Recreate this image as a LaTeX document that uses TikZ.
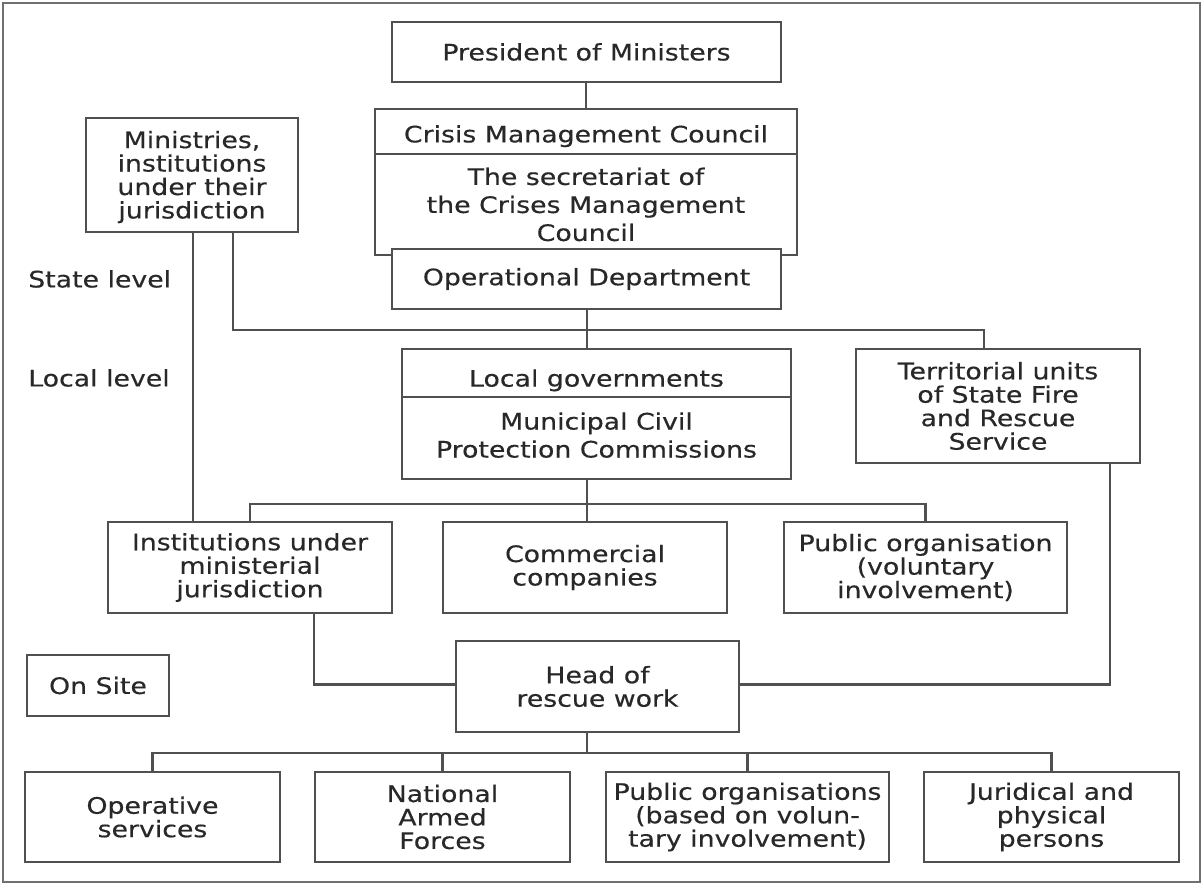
\documentclass[tikz,border=0pt]{standalone}
\usepackage{fontspec}
\setmainfont{DejaVu Sans}[FakeStretch=1.18,FakeBold=0.35]
\usetikzlibrary{calc}
\definecolor{linec}{HTML}{505050}
\definecolor{txtc}{HTML}{282828}
\definecolor{framec}{HTML}{707070}
\tikzset{
  box/.style={draw=linec, line width=1.6pt, fill=white, align=center, inner sep=0pt,
    text=txtc, font=\fontsize{17pt}{17.6pt}\selectfont},
  wide/.style={font=\fontsize{17pt}{21pt}\selectfont},
  conn/.style={draw=linec, line width=1.6pt},
  lbl/.style={text=txtc, font=\fontsize{17pt}{17.6pt}\selectfont, inner sep=0pt}
}
\newcommand\mybox[7][]{\node[box,#1, minimum width={(#5-#3)*0.75pt}, minimum height={(#6-#4)*0.75pt}] (#2) at ({(#3+#5)/2},{(#4+#6)/2}) {#7};}
\newcommand\shiftln[2]{\raisebox{#1}[\height][\depth]{#2}}
\begin{document}
\begin{tikzpicture}[x=0.75pt,y=-0.75pt]
\useasboundingbox (0,0) rectangle (1203,884);
\draw[draw=framec, line width=1.5pt] (3,3) rectangle (1200,882);

\mybox{pres}{392}{22}{781}{82}{President of Ministers}
\mybox{cmc}{375}{109}{797}{154}{\shiftln{-3.5pt}{Crisis Management Council}}
\mybox[wide]{sec}{375}{154}{797}{255}{The secretariat of\\the Crises Management\\Council}
\mybox{op}{392}{249}{781}{309}{Operational Department}
\mybox{min}{86}{118}{298}{232}{\shiftln{-1.5pt}{Ministries,}\\\shiftln{-1.5pt}{institutions}\\\shiftln{-1.5pt}{under their}\\\shiftln{-1.5pt}{jurisdiction}}
\mybox{lg}{402}{349}{791}{397}{\shiftln{-5.5pt}{Local governments}}
\mybox[wide]{mun}{402}{397}{791}{479}{\shiftln{2.2pt}{Municipal Civil}\\\shiftln{2.2pt}{Protection Commissions}}
\mybox{terr}{856}{349}{1140}{463}{Territorial units\\of State Fire\\and Rescue\\Service}
\mybox{inst}{108}{522}{392}{613}{Institutions under\\ministerial\\jurisdiction}
\mybox{com}{443}{522}{727}{613}{Commercial\\companies}
\mybox{pub}{784}{522}{1067}{613}{Public organisation\\(voluntary\\involvement)}
\mybox{onsite}{27}{655}{169}{716}{On Site}
\mybox{head}{456}{641}{739}{732}{Head of\\rescue work}
\mybox{ops}{25}{772}{280}{862}{Operative\\services}
\mybox{nat}{315}{772}{570}{862}{National\\Armed\\Forces}
\mybox{pubs}{606}{772}{889}{862}{Public organisations\\(based on volun-\\tary involvement)}
\mybox{jur}{924}{772}{1179}{862}{Juridical and\\physical\\persons}

\node[lbl, anchor=west] (state) at (28,279) {State level};
\node[lbl, anchor=west] (local) at (28,378) {Local level};

\coordinate (bus1) at (587,330);
\coordinate (bus2) at (587,504);
\coordinate (bus3) at (587,753);

\draw[conn] (pres.south -| cmc.north) -- (cmc.north);
\draw[conn] (bus1 |- op.south) -- (bus1 |- lg.north);
\draw[conn] ($(min.south)+(41,0)$) |- (bus1) -| ($(terr.north)+(-14,0)$);
\draw[conn] ($(min.south)+(1,0)$) -- ($(inst.north)+(-57,0)$);
\draw[conn] (bus2 |- mun.south) -- (bus2 |- com.north);
\draw[conn] (inst.north) |- (bus2) -| (pub.north);
\draw[conn] ($(inst.south)+(64,0)$) |- ($(head.west)+(0,-2)$);
\draw[conn] ($(terr.south)+(112,0)$) |- ($(head.east)+(0,-2)$);
\draw[conn] (bus3 |- head.south) -- (bus3);
\draw[conn] (ops.north) |- (bus3) -| (jur.north);
\draw[conn] (nat.north) -- (nat.north |- bus3);
\draw[conn] (pubs.north) -- (pubs.north |- bus3);
\end{tikzpicture}
\end{document}
